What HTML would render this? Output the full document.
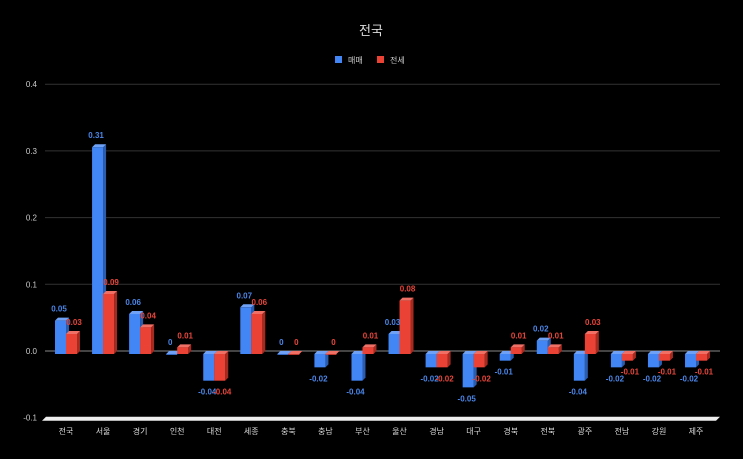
<!DOCTYPE html>
<html><head><meta charset="utf-8">
<style>
html,body{margin:0;padding:0;background:#000;}
svg{display:block;font-family:"Liberation Sans","Noto Sans CJK KR",sans-serif;}
</style></head>
<body>
<svg id="chart" width="743" height="459" viewBox="0 0 743 459">
<rect width="743" height="459" fill="#000"/>
<text x="371" y="35" fill="#ddd" font-size="13" text-anchor="middle">전국</text>
<g>
<rect x="335" y="56" width="7" height="7" fill="#4285f4"/>
<text x="348" y="63" fill="#ccc" font-size="8">매매</text>
<rect x="377" y="56" width="7" height="7" fill="#ea4335"/>
<text x="390" y="63" fill="#ccc" font-size="8">전세</text>
</g>
<g id="grid"></g><g id="floor"></g><g id="bars"></g><g id="labels"></g>
</svg>
<script>
const categories=["전국","서울","경기","인천","대전","세종","충북","충남","부산","울산","경남","대구","경북","전북","광주","전남","강원","제주"];
const saleValues=[0.05,0.31,0.06,0,-0.04,0.07,0,-0.02,-0.04,0.03,-0.02,-0.05,-0.01,0.02,-0.04,-0.02,-0.02,-0.02];
const jeonseValues=[0.03,0.09,0.04,0.01,-0.04,0.06,0,0,0.01,0.08,-0.02,-0.02,0.01,0.01,0.03,-0.01,-0.01,-0.01];
const yTicks=[0.4,0.3,0.2,0.1,0.0,-0.1];
const yTickLabels=["0.4","0.3","0.2","0.1","0.0","-0.1"];

const NS="http://www.w3.org/2000/svg";
function y(v){return 351-v*667;}
function x(i){return 66+i*37.06;}
function mk(tag,attrs,parent){const e=document.createElementNS(NS,tag);for(const k in attrs)e.setAttribute(k,attrs[k]);parent.appendChild(e);return e;}
const grid=document.getElementById('grid'),bars=document.getElementById('bars'),labels=document.getElementById('labels'),floor=document.getElementById('floor');
yTicks.forEach((t,i)=>{
  if(t>-0.1){const l=mk('line',{x1:45,x2:720,y1:y(t),y2:y(t),stroke:t===0?'#888':'#333','stroke-width':1},grid);
  
  }
  const tx=mk('text',{x:37,y:y(t)+3,fill:'#ccc','font-size':8,'text-anchor':'end'},grid);
  tx.textContent=yTickLabels[i];
  
  
});
const fl=mk('polygon',{points:`42,${y(-0.1)+3} 46,${y(-0.1)-1} 720,${y(-0.1)-1} 716,${y(-0.1)+3}`,fill:'#eee'},floor);


function bar(cx,v,front,side,top,name){
  const g=mk('g',{},bars);
  
  
  const base=y(0)+3,tv=y(v)+3;const y1=Math.min(base,tv),y2=Math.max(base,tv);const w=11,d=3;
  mk('polygon',{points:`${cx+w},${y1} ${cx+w+d},${y1-d} ${cx+w+d},${y2-d} ${cx+w},${y2}`,fill:side},g);
  mk('polygon',{points:`${cx},${y1} ${cx+d},${y1-d} ${cx+w+d},${y1-d} ${cx+w},${y1}`,fill:top},g);
  mk('rect',{x:cx,y:y1,width:w,height:Math.max(y2-y1,0.8),fill:front},g);
}
function lab(cx,v,color,name){
  const t=mk('text',{x:cx,y:v>=0?y(v)-6:y(v)+17,fill:color,'font-size':8,'font-weight':'bold','text-anchor':'middle'},labels);
  t.textContent=String(v);
  
  
}
categories.forEach((c,i)=>{
  const cx=x(i);
  bar(cx-11,saleValues[i],'#4285f4','#2a5cb0','#6fa2f7','bar-sale');
  bar(cx,jeonseValues[i],'#ea4335','#a52a20','#f07066','bar-jeonse');
  lab(cx-7,saleValues[i],'#4a86e8','value-label-sale');
  lab(cx+8,jeonseValues[i],'#e8453a','value-label-jeonse');
  const t=mk('text',{x:cx,y:434,fill:'#ddd','font-size':8,'text-anchor':'middle'},labels);
  t.textContent=c;
  
  
});
</script>
</body></html>
